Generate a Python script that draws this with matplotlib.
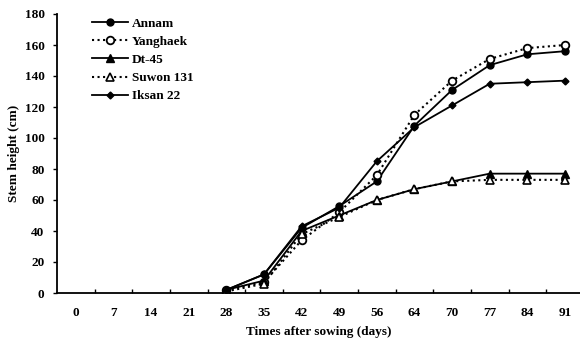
import matplotlib
matplotlib.use("Agg")
import matplotlib.pyplot as plt
import numpy as np

days = ["0", "7", "14", "21", "28", "35", "42", "49", "56", "64", "70", "77", "84", "91"]
data_days_idx = [4, 5, 6, 7, 8, 9, 10, 11, 12, 13]  # 28 .. 91

annam     = [2, 12, 42, 56, 72, 108, 131, 147, 154, 156]
yanghaek  = [2, 7, 34, 52, 76, 115, 137, 151, 158, 160]
dt45      = [2, 8, 40, 50, 60, 67, 72, 77, 77, 77]
suwon131  = [1, 6, 38, 49, 60, 67, 72, 73, 73, 73]
iksan22   = [2, 12, 43, 55, 85, 107, 121, 135, 136, 137]

yticks = [0, 20, 40, 60, 80, 100, 120, 140, 160, 180]

plt.rcParams['font.family'] = ['Liberation Serif', 'DejaVu Serif']
plt.rcParams['font.weight'] = 'bold'

fig = plt.figure(figsize=(5.8, 3.49), dpi=100)
ax = fig.add_axes([57/580, 1-293/349, (580-57)/580, (293-14)/349])

x = np.array(data_days_idx)
ax.plot(x, annam, '-', color='black', lw=1.3, marker='o', ms=5, mfc='black', label='Annam')
ax.plot(x, yanghaek, ':', color='black', lw=1.5, marker='o', ms=5.5, mfc='white', mew=1.3, label='Yanghaek')
ax.plot(x, dt45, '-', color='black', lw=1.3, marker='^', ms=5.5, mfc='black', label='Dt-45')
ax.plot(x, suwon131, ':', color='black', lw=1.5, marker='^', ms=5.5, mfc='white', mew=1.2, label='Suwon 131')
ax.plot(x, iksan22, '-', color='black', lw=1.3, marker='D', ms=3.5, mfc='black', label='Iksan 22')

ax.set_xlim(-0.5, 13.4)
ax.set_ylim(0, 180)
ax.set_yticks(yticks)
ax.set_yticklabels([str(v) for v in yticks], fontsize=9.5, fontweight='bold')

ax.set_xticks(np.arange(0.5, 13, 1))
ax.set_xticklabels([])
ax.tick_params(axis='x', which='major', direction='in', length=3, width=1)
ax.set_xticks(np.arange(len(days)), minor=True)
ax.set_xticklabels(days, minor=True, fontsize=9.5, fontweight='bold')
ax.tick_params(axis='x', which='minor', length=0, pad=10)
ax.tick_params(axis='y', direction='out', length=3, width=1, pad=6)

for s in ['top', 'right']:
    ax.spines[s].set_visible(False)
ax.spines['left'].set_linewidth(1.3)
ax.spines['bottom'].set_linewidth(1.3)

ax.set_xlabel('Times after sowing (days)', fontsize=9.5, fontweight='bold', labelpad=5)
ax.set_ylabel('Stem height (cm)', fontsize=9.5, fontweight='bold', labelpad=3)

leg = ax.legend(loc='upper left', bbox_to_anchor=(0.045, 1.03), frameon=False,
                handlelength=2.7, handletextpad=0.3, labelspacing=0.45,
                prop={'weight': 'bold', 'size': 9.5})

fig.savefig('out.png', dpi=100)
